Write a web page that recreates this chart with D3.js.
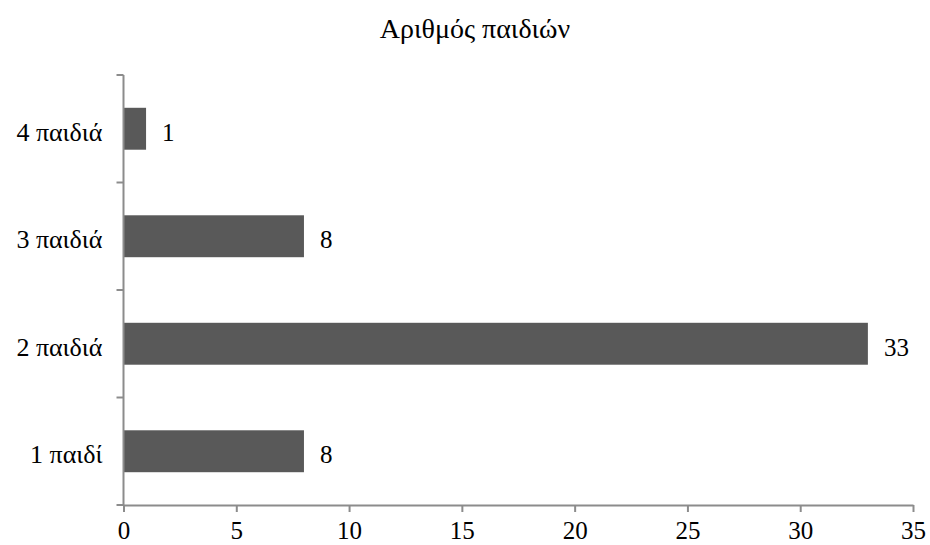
<!DOCTYPE html>
<html>
<head>
<meta charset="utf-8">
<script src="https://cdn.jsdelivr.net/npm/d3@7"></script>
<style>
  html, body { margin: 0; padding: 0; background: #fff; }
  svg text { font-family: "Liberation Serif", "Times New Roman", serif; fill: #000; }
</style>
</head>
<body>
<svg id="chart" width="930" height="545"></svg>
<script>
// Number of children per family
const title = "Αριθμός παιδιών";
const categories = ["1 παιδί", "2 παιδιά", "3 παιδιά", "4 παιδιά"];
const counts = [8, 33, 8, 1];
const xTicks = [0, 5, 10, 15, 20, 25, 30, 35];

const svg = d3.select("#chart");
const margin = { left: 123.5, right: 17, top: 75, bottom: 40 };
const W = 930, H = 545;
const labelSize = "25px";

const x = d3.scaleLinear().domain([0, 35]).range([margin.left, W - margin.right]);
const y = d3.scaleBand()
  .domain(categories)
  .range([H - margin.bottom, margin.top])
  .paddingInner(0.61)
  .paddingOuter(0.305);

const axisColor = "#8c8c8c";

// Title
svg.append("text")
  .attr("x", 475).attr("y", 38)
  .attr("text-anchor", "middle")
  .style("font-size", "28px")
  .text(title);

// Bars
const data = categories.map((c, i) => ({ c, v: counts[i] }));
svg.selectAll("rect.bar").data(data).join("rect")
  .attr("class", "bar")
  .attr("x", x(0))
  .attr("y", d => y(d.c))
  .attr("width", d => x(d.v) - x(0))
  .attr("height", y.bandwidth())
  .attr("fill", "#595959");

// Value labels
svg.selectAll("text.val").data(data).join("text")
  .attr("class", "val")
  .attr("x", d => x(d.v) + 16)
  .attr("y", d => y(d.c) + y.bandwidth() / 2)
  .attr("dy", "0.47em")
  .style("font-size", labelSize)
  .text(d => d.v);

// X axis
const xAxis = svg.append("g")
  .attr("transform", `translate(0,${H - margin.bottom})`)
  .call(d3.axisBottom(x).tickValues(xTicks).tickSize(7).tickSizeOuter(0).tickPadding(9));
xAxis.select(".domain").attr("stroke", axisColor).attr("stroke-width", 2);
xAxis.selectAll(".tick line").attr("stroke", axisColor).attr("stroke-width", 2);
xAxis.selectAll(".tick text").style("font-size", labelSize).attr("font-family", null);

// Y axis: category boundaries as tick marks, labels centred in bands
const yAxisG = svg.append("g");
yAxisG.append("line")
  .attr("x1", x(0)).attr("x2", x(0))
  .attr("y1", margin.top).attr("y2", H - margin.bottom)
  .attr("stroke", axisColor).attr("stroke-width", 2);
const bounds = d3.range(categories.length + 1).map(i => margin.top + i * (H - margin.bottom - margin.top) / categories.length);
yAxisG.selectAll("line.tk").data(bounds).join("line")
  .attr("class", "tk")
  .attr("x1", x(0) - 7).attr("x2", x(0))
  .attr("y1", d => d).attr("y2", d => d)
  .attr("stroke", axisColor).attr("stroke-width", 2);
yAxisG.selectAll("text.cat").data(categories).join("text")
  .attr("class", "cat")
  .attr("x", x(0) - 21)
  .attr("y", d => y(d) + y.bandwidth() / 2)
  .attr("dy", "0.47em")
  .attr("text-anchor", "end")
  .style("font-size", "26px")
  .text(d => d);
</script>
</body>
</html>
